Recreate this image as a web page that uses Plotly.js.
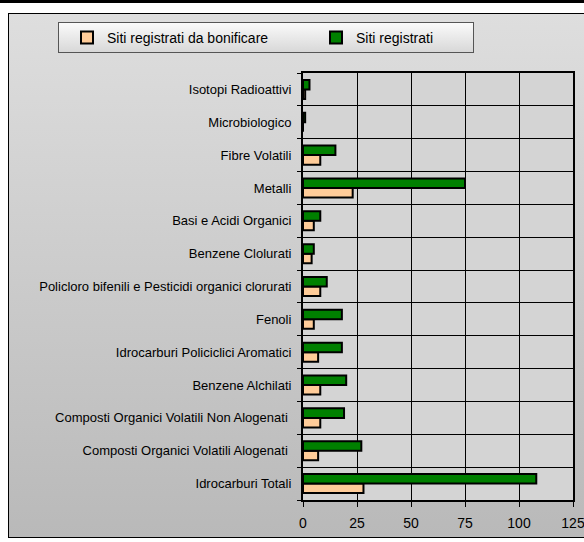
<!DOCTYPE html>
<html><head><meta charset="utf-8">
<script src="https://cdn.plot.ly/plotly-3.0.1.min.js"></script>
<style>
html,body{margin:0;padding:0;width:584px;height:542px;overflow:hidden;background:#fff;}
#topline{position:absolute;left:0;top:0;width:584px;height:3px;background:#000;}
#frame{position:absolute;left:8px;top:13px;width:600px;height:523px;border:1px solid #000;
 background:linear-gradient(#dedede,#b9b9b9);}
#legendbox{position:absolute;left:58px;top:22px;width:414px;height:29px;border:1px solid #555;
 background:linear-gradient(#fafafa,#d8d8d8);}
#chart{position:absolute;left:0;top:0;width:584px;height:542px;}
</style></head>
<body>
<div id="topline"></div>
<div id="frame"></div>
<div id="legendbox"></div>
<div id="chart"></div>
<script>
const categories = [
  "Idrocarburi Totali",
  "Composti Organici Volatili Alogenati ",
  "Composti Organici Volatili Non Alogenati ",
  "Benzene Alchilati",
  "Idrocarburi Policiclici Aromatici",
  "Fenoli",
  "Policloro bifenili e Pesticidi organici clorurati",
  "Benzene Clolurati",
  "Basi e Acidi Organici",
  "Metalli",
  "Fibre Volatili",
  "Microbiologico",
  "Isotopi Radioattivi"
];
const sitiDaBonificare = [28, 7, 8, 8, 7, 5, 8, 4, 5, 23, 8, 0, 1];
const sitiRegistrati   = [108, 27, 19, 20, 18, 18, 11, 5, 8, 75, 15, 1, 3];
const xTicks = [0, 25, 50, 75, 100, 125];

const fam = "Liberation Sans, Arial, sans-serif";
const data = [
  {type: "bar", orientation: "h", name: "Siti registrati da bonificare",
   y: categories, x: sitiDaBonificare,
   marker: {color: "#ffcc99", line: {color: "#000", width: 2}}},
  {type: "bar", orientation: "h", name: "Siti registrati",
   y: categories, x: sitiRegistrati,
   marker: {color: "#008000", line: {color: "#000", width: 2}}}
];
const layout = {
  width: 584, height: 542,
  margin: {l: 303, r: 11, t: 73, b: 42},
  paper_bgcolor: "rgba(0,0,0,0)",
  plot_bgcolor: "#d4d4d4",
  barmode: "group",
  bargap: 0.42, bargroupgap: 0,
  font: {family: fam, size: 13, color: "#000"},
  showlegend: true,
  legend: {orientation: "h", xref: "paper", yref: "paper",
    x: (67 - 303) / 270, xanchor: "left", y: (500 - 22) / 427, yanchor: "top",
    font: {family: fam, size: 14, color: "#000"},
    traceorder: "normal", itemwidth: 30, entrywidth: 204,
    bgcolor: "rgba(0,0,0,0)", borderwidth: 0},
  xaxis: {range: [0, 125], tickvals: xTicks, ticktext: xTicks.map(String),
    showgrid: true, gridcolor: "#000", gridwidth: 1,
    ticks: "outside", ticklen: 5, tickcolor: "#000",
    showline: true, linecolor: "#000", linewidth: 2, mirror: true,
    zeroline: false, ticklabelstandoff: 4, ticklabeloverflow: "allow",
    tickfont: {family: fam, size: 14, color: "#000"}, fixedrange: true},
  yaxis: {type: "category", categoryorder: "array", categoryarray: categories,
    tickson: "boundaries", showgrid: true, gridcolor: "#000", gridwidth: 1,
    ticks: "outside", ticklen: 4, tickcolor: "#000",
    showline: true, linecolor: "#000", linewidth: 2, mirror: true,
    ticklabelstandoff: 7,
    tickfont: {family: fam, size: 13, color: "#000"}, fixedrange: true}
};
Plotly.newPlot("chart", data, layout, {displayModeBar: false, staticPlot: true});
</script>
</body></html>
